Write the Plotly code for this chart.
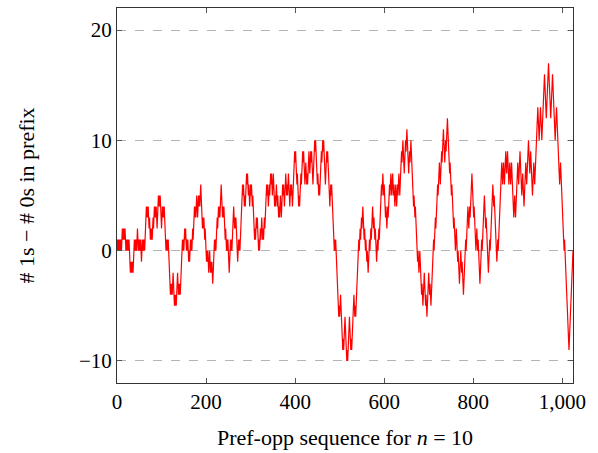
import plotly.graph_objects as go

# Pref-opp de Bruijn sequence for n = 10 (1024 bits, hex encoded, MSB first)
seq_hex = (
    "aab54aa2aeaca9abd495b53a8d42a0ac572beb4a5add66b0a45329ebb5c5128e"
    "bca1afd2e93485a2d96f4da62c9674e58d3e88bba32e68f425ed0e8340a02c17"
    "0bc5f2fedb124edc91b7d9137664cd9ec761b0241309c4f27eef73b8dc1108c4"
    "723ef3784321ef883bf206ff3398cc19f3863cf1873f8e3f0f83c0e0300801ff"
)
bits = [int(b) for h in seq_hex for b in format(int(h, 16), "04b")]

x_ticks = [0, 200, 400, 600, 800, 1000]
x_tick_labels = ["0", "200", "400", "600", "800", "1,000"]
y_ticks = [-10, 0, 10, 20]
y_tick_labels = ["\u221210", "0", "10", "20"]

# # 1s - # 0s in each prefix
walk = [0]
for b in bits:
    walk.append(walk[-1] + (1 if b else -1))
xs = list(range(len(walk)))

fig = go.Figure()
fig.add_trace(go.Scatter(x=xs, y=walk, mode="lines",
                         line=dict(color="#ff0000", width=1.2),
                         showlegend=False, hoverinfo="skip"))

font_family = "Liberation Serif, DejaVu Serif, serif"
axis_common = dict(showline=True, linecolor="#333333", linewidth=1, mirror="ticks",
                   ticks="inside", ticklen=5, tickcolor="#555555", tickwidth=1,
                   zeroline=False, tickfont=dict(size=21, family=font_family, color="black"))
fig.update_xaxes(range=[0, 1024], tickvals=x_ticks, ticktext=x_tick_labels, showgrid=False,
                 title=dict(text="Pref-opp sequence for <i>n</i> = 10",
                            font=dict(size=22, family=font_family, color="black"), standoff=16),
                 **axis_common)
fig.update_yaxes(range=[-12, 22], tickvals=y_ticks, ticktext=y_tick_labels, showgrid=True,
                 gridcolor="#b4b4b4", griddash="dash", gridwidth=1,
                 title=dict(text="# 1s \u2212 # 0s in prefix",
                            font=dict(size=22, family=font_family, color="black"), standoff=38),
                 **axis_common)
fig.update_layout(width=598, height=453, margin=dict(l=117, r=25, t=7, b=69),
                  paper_bgcolor="white", plot_bgcolor="white",
                  font=dict(family=font_family, color="black"))
fig.write_html("out.html")
